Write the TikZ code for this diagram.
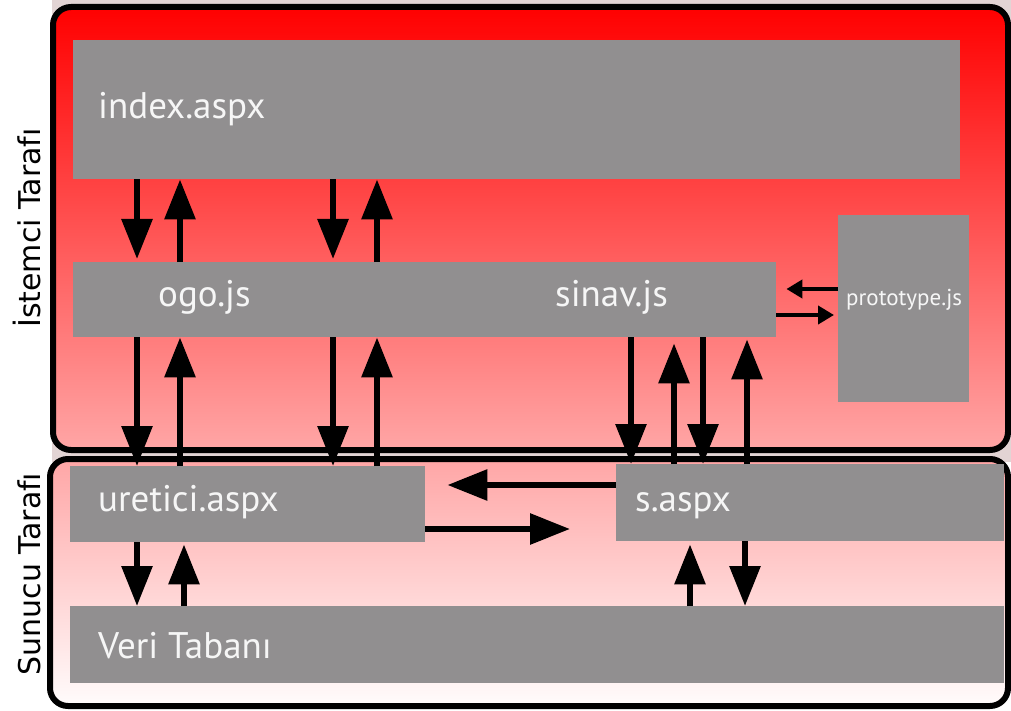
\documentclass[tikz,border=0pt]{standalone}
\usepackage{fontspec}
\setmainfont{PT Sans}
\newfontfamily\sidefont{DejaVu Sans}
\usetikzlibrary{arrows.meta}
\definecolor{boxgray}{RGB}{145,143,144}
\definecolor{topred}{RGB}{255,0,0}
\definecolor{midpink}{RGB}{255,166,166}
\definecolor{lowwhite}{RGB}{255,252,252}
\definecolor{gapgray}{RGB}{226,212,212}
\definecolor{labelwhite}{RGB}{246,246,246}
\tikzset{
  box/.style={fill=boxgray, draw=none, anchor=north west, inner sep=0pt},
  boxtext/.style={anchor=base west, inner sep=0pt, text=labelwhite,
    font=\fontsize{37}{40}\selectfont},
  smalltext/.style={anchor=base west, inner sep=0pt, text=labelwhite,
    font=\fontsize{23}{26}\selectfont},
  sidetext/.style={anchor=base, inner sep=0pt, rotate=90,
    font=\sidefont\fontsize{30}{34}\selectfont},
  arr/.style={line width=6pt, -{Triangle[length=40pt,width=30pt]}},
  smallarr/.style={line width=4pt, -{Triangle[length=16pt,width=18pt]}},
  frame/.style={line width=6pt, rounded corners=18pt}
}
\begin{document}
\begin{tikzpicture}[x=1pt,y=-1pt]
\useasboundingbox (0,0) rectangle (1011,711);
% pale backdrop behind the client frame and the gap below it
\fill[gapgray] (52,0) rectangle (1011,462);
% client side and server side frames
\draw[frame, top color=topred, bottom color=midpink] (53,7) rectangle (1008,450);
\draw[frame, top color=midpink, bottom color=lowwhite] (50,459) rectangle (1008,706);

% side titles
\node[sidetext] (client) at (40,228) {İstemci Tarafı};
\node[sidetext] (server) at (40,574) {Sunucu Tarafı};

% components
\node[box, minimum width=887pt, minimum height=139pt] (index) at (73,40) {};
\node[box, minimum width=703pt, minimum height=75pt] (ogo) at (73,262) {};
\node[box, minimum width=131pt, minimum height=187pt] (proto) at (838,215) {};
\node[box, minimum width=355pt, minimum height=76pt] (ure) at (70,466) {};
\node[box, minimum width=388pt, minimum height=77pt] (s) at (616,464) {};
\node[box, minimum width=934pt, minimum height=77pt] (veri) at (70,606) {};

\node[boxtext] (indext) at (98,119) {index.aspx};
\node[boxtext] (ogot) at (158,306) {ogo.js};
\node[boxtext] (sinavt) at (555,306) {sinav.js};
\node[smalltext] (protot) at (846,305) {prototype.js};
\node[boxtext] (uret) at (98,511) {uretici.aspx};
\node[boxtext] (st) at (635,511) {s.aspx};
\node[boxtext] (verit) at (98,658) {Veri Tabanı};

% index.aspx <-> ogo.js / sinav.js
\draw[arr, shorten >=3pt] (137,0 |- index.south) -- (137,0 |- ogo.north);
\draw[arr] (180,0 |- ogo.north) -- (180,0 |- index.south);
\draw[arr, shorten >=3pt] (333,0 |- index.south) -- (333,0 |- ogo.north);
\draw[arr] (377,0 |- ogo.north) -- (377,0 |- index.south);

% ogo.js <-> uretici.aspx
\draw[arr] (137,0 |- ogo.south) -- (137,0 |- ure.north);
\draw[arr] (180,0 |- ure.north) -- (180,0 |- ogo.south);
\draw[arr] (333,0 |- ogo.south) -- (333,0 |- ure.north);
\draw[arr] (377,0 |- ure.north) -- (377,0 |- ogo.south);

% sinav.js <-> s.aspx
\draw[arr] (631,0 |- ogo.south) -- (631,0 |- s.north);
\draw[arr, shorten >=6pt] (674,0 |- s.north) -- (674,0 |- ogo.south);
\draw[arr] (703,0 |- ogo.south) -- (703,0 |- s.north);
\draw[arr, shorten >=2pt] (747,0 |- s.north) -- (747,0 |- ogo.south);

% sinav.js <-> prototype.js
\draw[smallarr, shorten >=10pt] (0,289 -| proto.west) -- (0,289 -| ogo.east);
\draw[smallarr, shorten >=4pt] (0,315 -| ogo.east) -- (0,315 -| proto.west);

% s.aspx <-> uretici.aspx
\draw[arr, shorten >=22pt] (0,485 -| s.west) -- (0,485 -| ure.east);
\draw[arr, shorten >=46pt] (0,529 -| ure.east) -- (0,529 -| s.west);

% uretici.aspx <-> Veri Tabanı
\draw[arr] (137,0 |- ure.south) -- (137,0 |- veri.north);
\draw[arr, shorten >=2pt] (184,0 |- veri.north) -- (184,0 |- ure.south);

% s.aspx <-> Veri Tabanı
\draw[arr, shorten >=3pt] (690,0 |- veri.north) -- (690,0 |- s.south);
\draw[arr] (745,0 |- s.south) -- (745,0 |- veri.north);
\end{tikzpicture}
\end{document}
